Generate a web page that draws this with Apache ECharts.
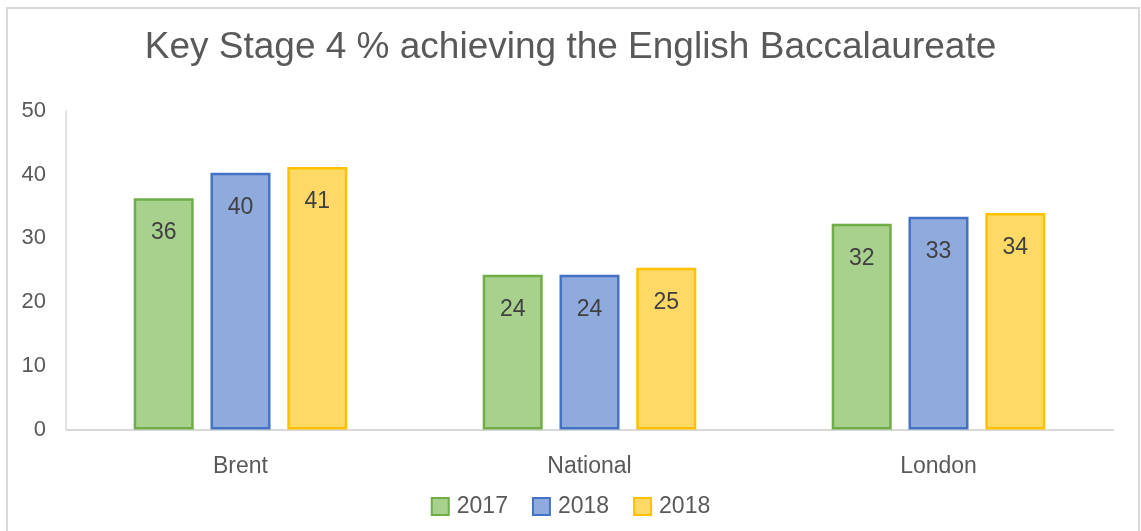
<!DOCTYPE html>
<html>
<head>
<meta charset="utf-8">
<script src="https://cdn.jsdelivr.net/npm/echarts@6/dist/echarts.min.js"></script>
<style>
  html, body { margin: 0; padding: 0; background: #fff; }
  #chart { width: 1141px; height: 531px; }
</style>
</head>
<body>
<div id="chart"></div>
<script>
// categories and values
var categories = ['Brent', 'National', 'London'];
var seriesNames = ['2017', '2018', '2018 '];
var values2017 = [36.3, 24.3, 32.3];
var values2018 = [40.3, 24.3, 33.4];
var values2018b = [41.2, 25.4, 34.0];
var yTicks = [0, 10, 20, 30, 40, 50];

var fills = ['#A9D18E', '#8FAADC', '#FFD966'];
var borders = ['#70AD47', '#4472C4', '#FFC000'];
var allValues = [values2017, values2018, values2018b];

var chart = echarts.init(document.getElementById('chart'));

var series = [];
for (var i = 0; i < 3; i++) {
  series.push({
    name: seriesNames[i],
    type: 'bar',
    data: allValues[i],
    barWidth: 60,
    barGap: '28%',
    itemStyle: { color: fills[i], borderColor: borders[i], borderWidth: 2.5 },
    label: {
      show: true,
      position: 'insideTop',
      distance: 23,
      color: '#404040',
      fontSize: 23,
      fontFamily: 'Liberation Sans',
      formatter: function (p) { return Math.round(p.value); }
    }
  });
}

chart.setOption({
  animation: false,
  textStyle: { fontFamily: 'Liberation Sans' },
  graphic: [{
    type: 'rect',
    shape: { x: 7, y: 8, width: 1132, height: 600 },
    style: { fill: 'none', stroke: '#d9d9d9', lineWidth: 2 },
    silent: true
  }],
  title: {
    text: 'Key Stage 4 % achieving the English Baccalaureate',
    left: 'center',
    top: 24,
    textStyle: { fontSize: 37, fontWeight: 'normal', color: '#595959', fontFamily: 'Liberation Sans' }
  },
  legend: {
    bottom: 8,
    left: 'center',
    icon: 'rect',
    itemWidth: 17,
    itemHeight: 17,
    itemGap: 24,
    data: seriesNames,
    formatter: function (n) { return n.trim(); },
    textStyle: { fontSize: 23, color: '#595959', fontFamily: 'Liberation Sans', padding: [0, 0, 0, 3] }
  },
  grid: { left: 66, right: 28, top: 111, bottom: 101.5 },
  xAxis: {
    type: 'category',
    data: categories,
    axisLine: { lineStyle: { color: '#d9d9d9', width: 2 } },
    axisTick: { show: false },
    axisLabel: { fontSize: 23, color: '#595959', margin: 26 }
  },
  yAxis: {
    type: 'value',
    min: yTicks[0],
    max: yTicks[yTicks.length - 1],
    interval: 10,
    axisLine: { show: true, lineStyle: { color: '#d9d9d9', width: 1.5 } },
    axisTick: { show: false },
    splitLine: { show: false },
    axisLabel: { fontSize: 22, color: '#595959', margin: 20, padding: [5, 0, 0, 0] }
  },
  series: series
});
</script>
</body>
</html>
